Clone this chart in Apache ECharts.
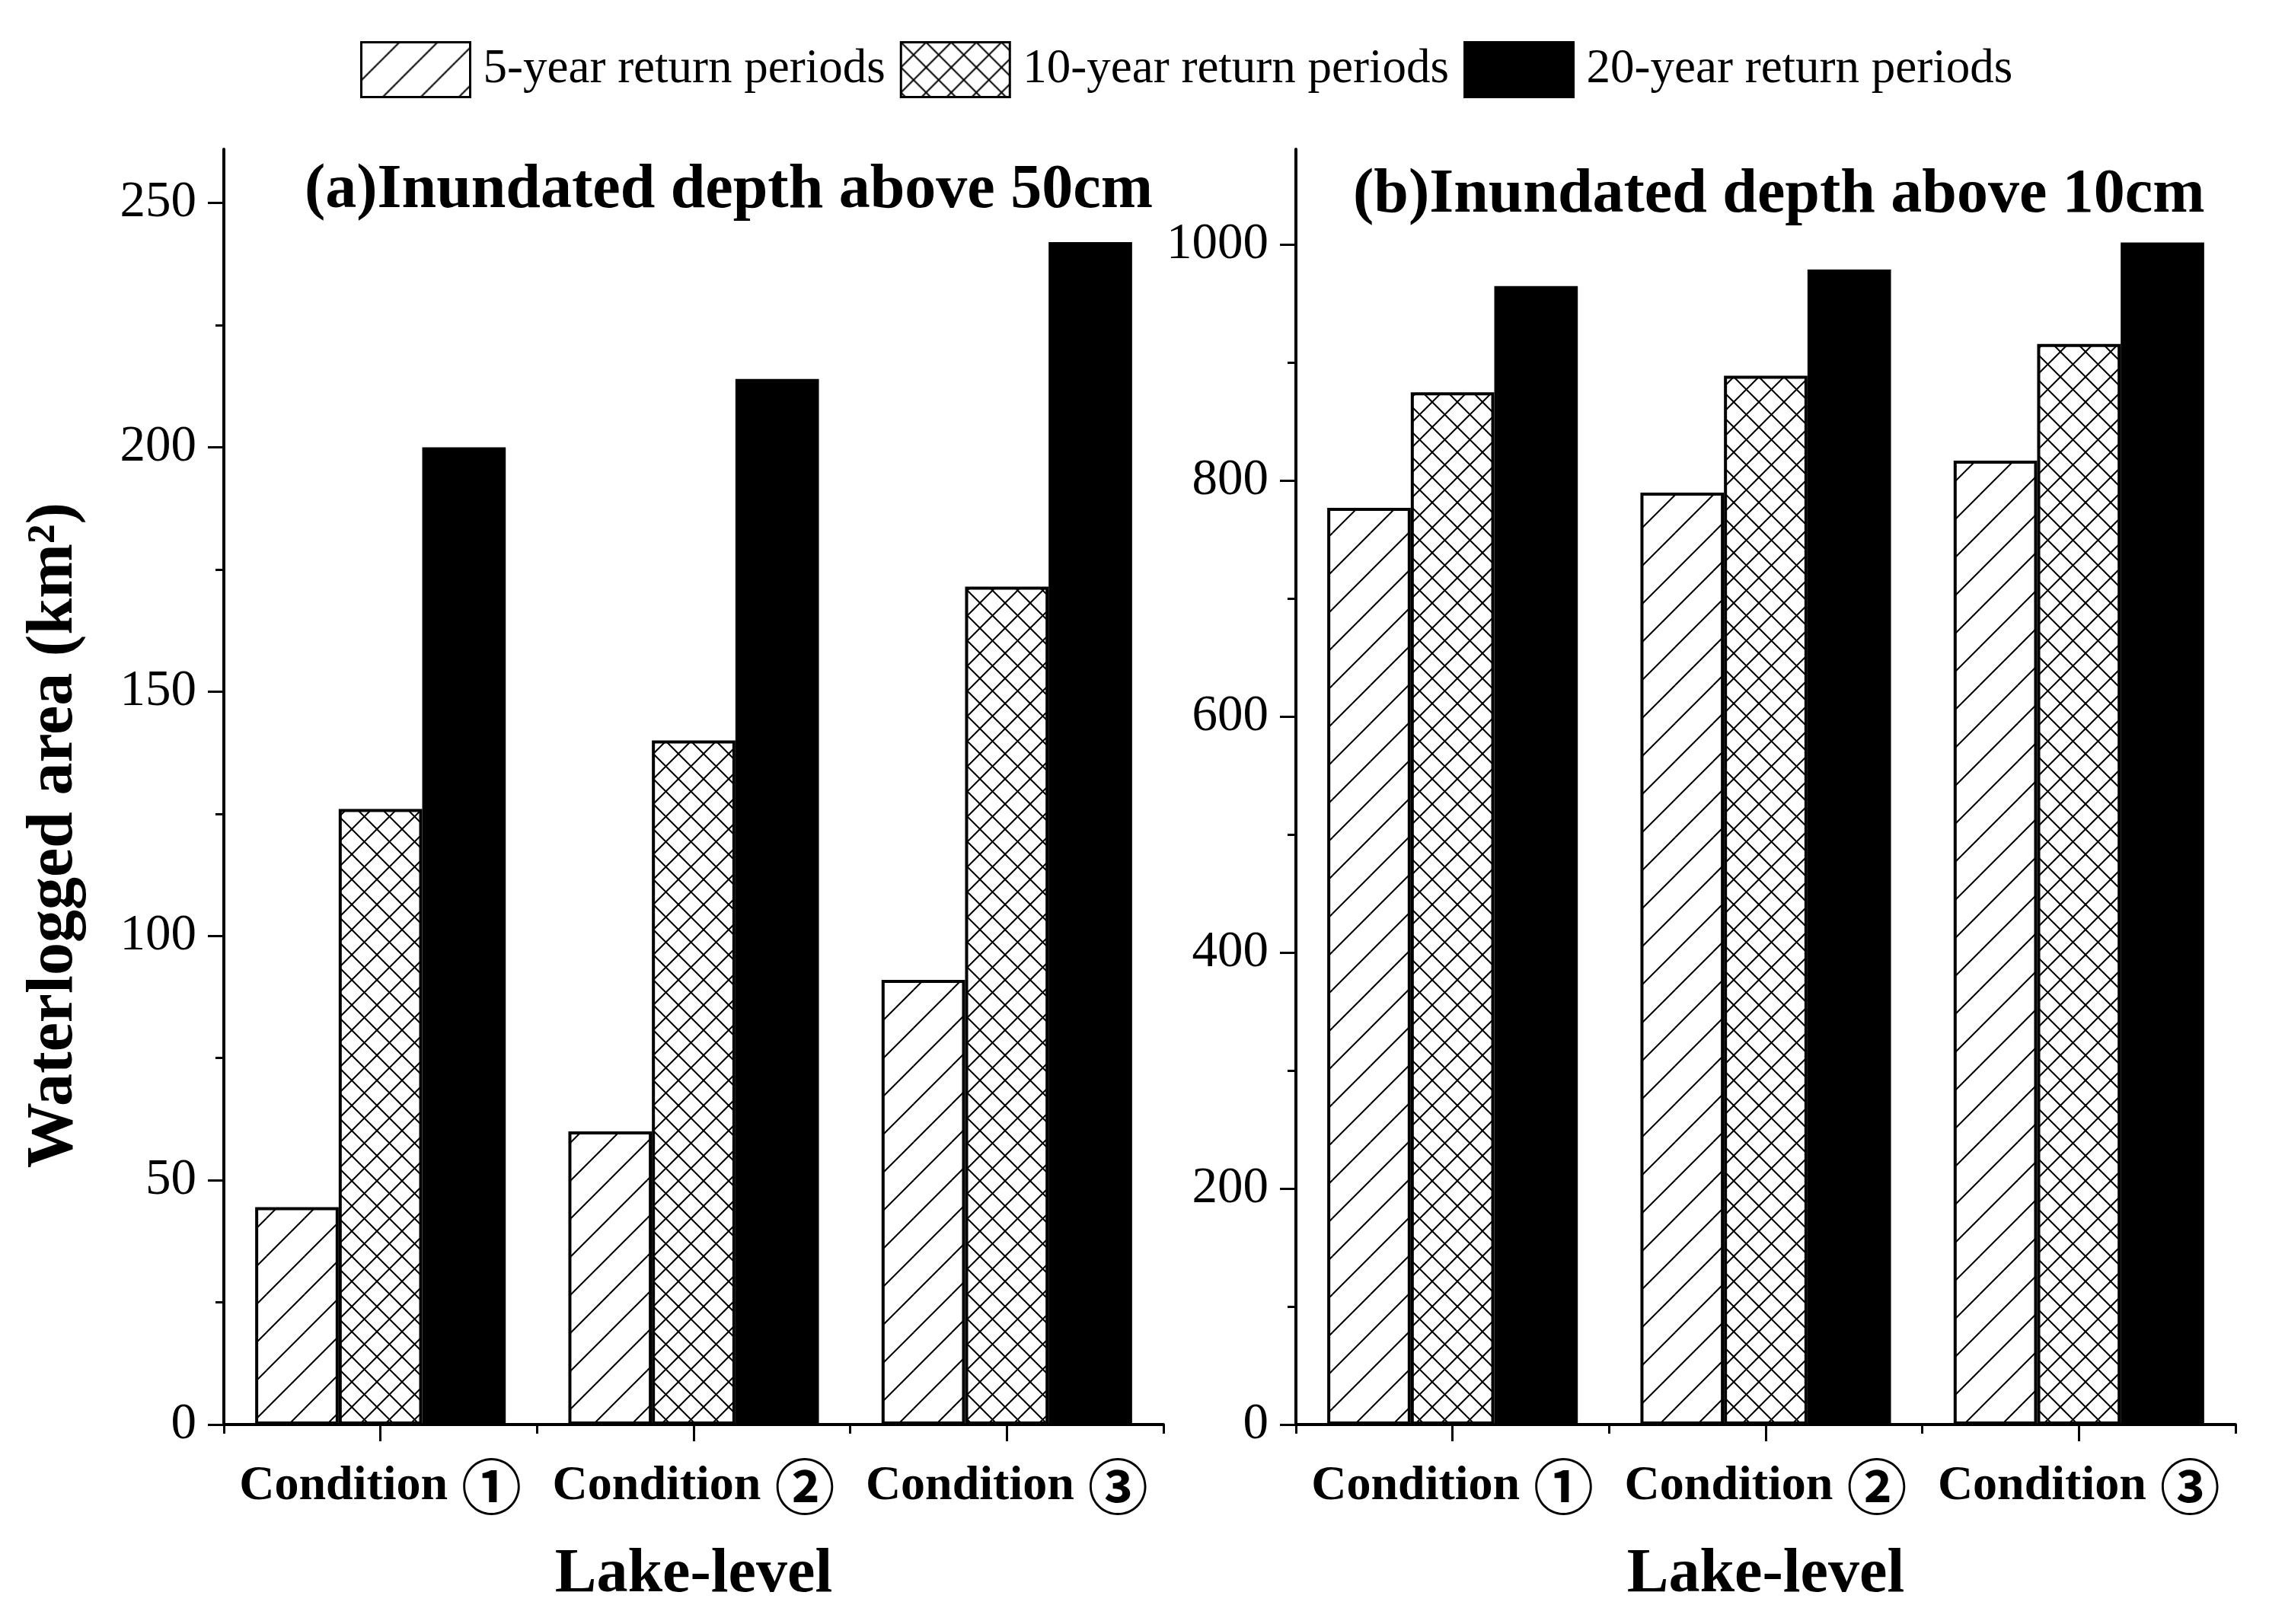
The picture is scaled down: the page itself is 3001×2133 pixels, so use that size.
<!DOCTYPE html>
<html>
<head>
<meta charset="utf-8">
<script src="https://cdn.jsdelivr.net/npm/echarts@6/dist/echarts.min.js"></script>
<style>html,body{margin:0;padding:0;background:#fff;}#c{width:3001px;height:2133px;}</style>
</head>
<body>
<div id="c"></div>
<script>
const categories = ['Condition ①', 'Condition ②', 'Condition ③'];
const seriesNames = ['5-year return periods', '10-year return periods', '20-year return periods'];
// Panel (a): inundated depth above 50cm
const a5 = [44.5, 60, 91];
const a10 = [126, 140, 171.5];
const a20 = [200, 214, 242];
// Panel (b): inundated depth above 10cm
const b5 = [777, 790, 817];
const b10 = [875, 889, 916];
const b20 = [965, 979, 1002];
// Tick values
const aMajorTicks = [0, 50, 100, 150, 200, 250];
const aMinorTicks = [25, 75, 125, 175, 225];
const bMajorTicks = [0, 200, 400, 600, 800, 1000];
const bMinorTicks = [100, 300, 500, 700, 900];
const aMax = 261;
const bMax = 1081;
const titleA = '(a)Inundated depth above 50cm';
const titleB = '(b)Inundated depth above 10cm';
const yTitle = 'Waterlogged area (km²)';
const xTitle = 'Lake-level';

const SERIF = "'Liberation Serif', 'Times New Roman', 'Noto Sans CJK SC', serif";

function makePattern(size, both) {
  const c = document.createElement('canvas');
  c.width = size; c.height = size;
  const g = c.getContext('2d');
  g.fillStyle = '#fff';
  g.fillRect(0, 0, size, size);
  g.strokeStyle = '#000';
  g.lineWidth = 2;
  for (let dx = -1; dx <= 1; dx++) {
    for (let dy = -1; dy <= 1; dy++) {
      const ox = dx * size, oy = dy * size;
      g.beginPath();
      g.moveTo(ox, oy + size); g.lineTo(ox + size, oy);
      g.stroke();
      if (both) {
        g.beginPath();
        g.moveTo(ox, oy); g.lineTo(ox + size, oy + size);
        g.stroke();
      }
    }
  }
  return c;
}
const hatch = { image: makePattern(50, false), repeat: 'repeat' };
const cross = { image: makePattern(33, true), repeat: 'repeat' };
const fills = [hatch, cross, '#000'];

const chart = echarts.init(document.getElementById('c'), null, { renderer: 'canvas' });

const grids = [
  { left: 294, top: 196, width: 1234, height: 1675 },
  { left: 1702, top: 196, width: 1234, height: 1675 }
];

function xAxes(gi) {
  return [
    {
      type: 'category', gridIndex: gi, data: categories, position: 'bottom',
      axisLine: { show: true, onZero: false, lineStyle: { color: '#000', width: 4 } },
      axisTick: { show: true, length: 12, lineStyle: { color: '#000', width: 3 } },
      axisLabel: { show: false },
      splitLine: { show: false }
    },
    {
      type: 'category', gridIndex: gi, data: categories, position: 'bottom',
      axisLine: { show: false, onZero: false },
      axisTick: { show: true, alignWithLabel: true, length: 22, lineStyle: { color: '#000', width: 3 } },
      axisLabel: {
        show: true, interval: 0, hideOverlap: false, margin: 42, color: '#000',
        fontFamily: SERIF, fontWeight: 'bold', fontSize: 64,
        formatter: v => v.replace(/ ([①②③])/, '{c|$1}'),
        rich: { c: { fontSize: 79, fontWeight: 'bold', padding: [0, 0, 0, 18],
                     fontFamily: "'Noto Sans CJK SC', sans-serif", color: '#000' } }
      },
      name: xTitle, nameLocation: 'middle', nameGap: 157,
      nameTextStyle: { color: '#000', fontFamily: SERIF, fontWeight: 'bold', fontSize: 82 },
      splitLine: { show: false }
    }
  ];
}

function yAxes(gi, max, major, minor) {
  return [
    {
      type: 'value', gridIndex: gi, min: 0, max: max, position: 'left',
      axisLine: { show: true, lineStyle: { color: '#000', width: 4 } },
      axisTick: { show: true, length: 21, customValues: major, lineStyle: { color: '#000', width: 3 } },
      axisLabel: { show: true, customValues: major, margin: 36, color: '#000', fontFamily: SERIF, fontSize: 67,
                   formatter: v => String(v) },
      splitLine: { show: false }
    },
    {
      type: 'value', gridIndex: gi, min: 0, max: max, position: 'left',
      axisLine: { show: false },
      axisTick: { show: true, length: 11, customValues: minor, lineStyle: { color: '#000', width: 3 } },
      axisLabel: { show: false },
      splitLine: { show: false }
    }
  ];
}

function panelSeries(xi, yi, datas) {
  return datas.map((d, i) => ({
    name: seriesNames[i], type: 'bar', xAxisIndex: xi, yAxisIndex: yi, data: d,
    barGap: '0%', barCategoryGap: '20%',
    itemStyle: { color: fills[i], borderColor: '#000', borderWidth: 4 }
  }));
}

const option = {
  animation: false,
  backgroundColor: '#fff',
  title: [
    { text: titleA, left: 400, top: 210, padding: 0,
      textStyle: { color: '#000', fontFamily: SERIF, fontWeight: 'bold', fontSize: 82 } },
    { text: titleB, left: 1777, top: 216, padding: 0,
      textStyle: { color: '#000', fontFamily: SERIF, fontWeight: 'bold', fontSize: 82 } }
  ],
  legend: {
    data: seriesNames, left: 473, top: 54, padding: 0, icon: 'rect',
    itemWidth: 143, itemHeight: 72, itemGap: 19,
    itemStyle: { borderWidth: 3 },
    textStyle: { color: '#000', fontFamily: SERIF, fontSize: 63, padding: [0, 0, 0, 12] }
  },
  grid: grids,
  xAxis: [].concat(xAxes(0), xAxes(1)),
  yAxis: [].concat(yAxes(0, aMax, aMajorTicks, aMinorTicks), yAxes(1, bMax, bMajorTicks, bMinorTicks)),
  graphic: [
    { type: 'text', x: 72, y: 1097, rotation: Math.PI / 2,
      style: { text: yTitle, fill: '#000', fontFamily: SERIF, fontWeight: 'bold', fontSize: 86,
               align: 'center', verticalAlign: 'middle' } }
  ],
  series: [].concat(panelSeries(0, 0, [a5, a10, a20]), panelSeries(2, 2, [b5, b10, b20]))
};
chart.setOption(option);
</script>
</body>
</html>
